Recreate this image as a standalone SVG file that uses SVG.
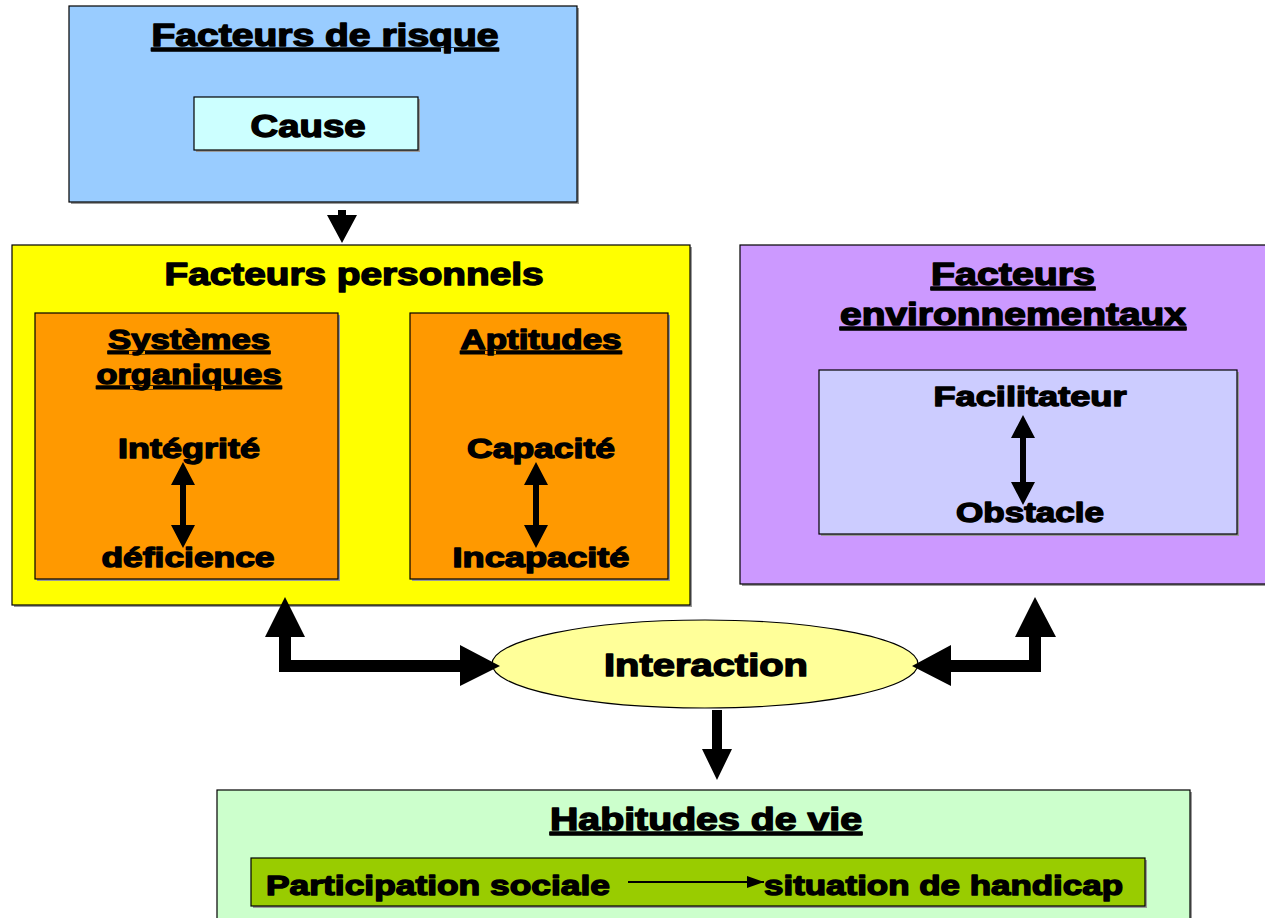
<svg xmlns="http://www.w3.org/2000/svg" width="1265" height="918" viewBox="0 0 1265 918">
<style>
.box{stroke:#000;stroke-width:1.2}
.sh{fill:#9a9a9a}
.t{font-family:"Liberation Sans",Arial,sans-serif;font-weight:bold;fill:#000;stroke:#000;stroke-width:1.4;stroke-linejoin:round;text-anchor:middle}
.u{text-decoration:underline}
.big{font-size:31px}
.mid{font-size:28px}
.arr{fill:#000}
</style>
<defs>
<marker id="ah" viewBox="0 0 17 12" refX="17" refY="6" markerWidth="17" markerHeight="12" orient="auto" markerUnits="userSpaceOnUse">
<path d="M0,0 L17,6 L0,12 z" fill="#000"/>
</marker>
</defs>
<rect width="1265" height="918" fill="#fff"/>

<g id="facteurs-risque">
<rect class="sh" x="71" y="8" width="508" height="196"/>
<rect class="box" x="69" y="6" width="508" height="196" fill="#99CCFF"/>
<text class="t big u" x="325" y="46" textLength="347" lengthAdjust="spacingAndGlyphs">Facteurs de risque</text>
<g id="cause">
<rect class="sh" x="196" y="99" width="224" height="53"/>
<rect class="box" x="194" y="97" width="224" height="53" fill="#CCFFFF"/>
<text class="t big" x="308" y="137" textLength="115" lengthAdjust="spacingAndGlyphs">Cause</text>
</g>
</g>

<g id="facteurs-personnels">
<rect class="sh" x="14" y="247" width="678" height="360"/>
<rect class="box" x="12" y="245" width="678" height="360" fill="#FFFF00"/>
<text class="t big" x="354" y="285" textLength="379" lengthAdjust="spacingAndGlyphs">Facteurs personnels</text>
<g id="systemes-organiques">
<rect class="sh" x="37" y="315" width="303" height="266"/>
<rect class="box" x="35" y="313" width="303" height="266" fill="#FF9900"/>
<text class="t mid u" x="189" y="349" textLength="162" lengthAdjust="spacingAndGlyphs">Systèmes</text>
<text class="t mid u" x="189" y="384" textLength="185" lengthAdjust="spacingAndGlyphs">organiques</text>
<text class="t mid" x="189" y="458" textLength="142" lengthAdjust="spacingAndGlyphs">Intégrité</text>
<text class="t mid" x="188" y="567" textLength="173" lengthAdjust="spacingAndGlyphs">déficience</text>
<path class="arr" d="M183,462 L195,485 L186,485 L186,525 L195,525 L183,548 L171,525 L180,525 L180,485 L171,485 z"/>
</g>
<g id="aptitudes">
<rect class="sh" x="412" y="315" width="258" height="266"/>
<rect class="box" x="410" y="313" width="258" height="266" fill="#FF9900"/>
<text class="t mid u" x="541" y="349" textLength="161" lengthAdjust="spacingAndGlyphs">Aptitudes</text>
<text class="t mid" x="541" y="458" textLength="148" lengthAdjust="spacingAndGlyphs">Capacité</text>
<text class="t mid" x="541" y="567" textLength="177" lengthAdjust="spacingAndGlyphs">Incapacité</text>
<path class="arr" d="M536,462 L548,485 L539,485 L539,525 L548,525 L536,548 L524,525 L533,525 L533,485 L524,485 z"/>
</g>
</g>

<g id="facteurs-environnementaux">
<rect class="sh" x="742" y="247" width="530" height="339"/>
<rect class="box" x="740" y="245" width="530" height="339" fill="#CC99FF"/>
<text class="t big u" x="1013" y="285" textLength="164" lengthAdjust="spacingAndGlyphs">Facteurs</text>
<text class="t big u" x="1013" y="325" textLength="346" lengthAdjust="spacingAndGlyphs">environnementaux</text>
<g id="facilitateur-obstacle">
<rect class="sh" x="821" y="372" width="418" height="164"/>
<rect class="box" x="819" y="370" width="418" height="164" fill="#CCCCFF"/>
<text class="t mid" x="1030" y="406" textLength="193" lengthAdjust="spacingAndGlyphs">Facilitateur</text>
<text class="t mid" x="1030" y="522" textLength="148" lengthAdjust="spacingAndGlyphs">Obstacle</text>
<path class="arr" d="M1023,415 L1035,438 L1026,438 L1026,482 L1035,482 L1023,505 L1011,482 L1020,482 L1020,438 L1011,438 z"/>
</g>
</g>

<g id="interaction">
<ellipse cx="705" cy="664" rx="213" ry="44" fill="#FFFF99" stroke="#000" stroke-width="1.2"/>
<text class="t big" x="706" y="676" textLength="204" lengthAdjust="spacingAndGlyphs">Interaction</text>
</g>

<g id="habitudes-de-vie">
<rect class="sh" x="219" y="792" width="973" height="140"/>
<rect class="box" x="217" y="790" width="973" height="140" fill="#CCFFCC"/>
<text class="t big u" x="706" y="830" textLength="312" lengthAdjust="spacingAndGlyphs">Habitudes de vie</text>
<g id="participation">
<rect class="sh" x="253" y="860" width="894" height="48"/>
<rect class="box" x="251" y="858" width="894" height="48" fill="#99CC00"/>
<text class="t mid" x="438" y="895" textLength="344" lengthAdjust="spacingAndGlyphs">Participation sociale</text>
<text class="t mid" x="943.5" y="895" textLength="359" lengthAdjust="spacingAndGlyphs">situation de handicap</text>
<line x1="628" y1="882" x2="764" y2="882" stroke="#000" stroke-width="2.2" marker-end="url(#ah)"/>
</g>
</g>

<g id="connectors">
<path class="arr" d="M338,210 L346,210 L346,215 L357,215 L342,243 L327,215 L338,215 z"/>
<path class="arr" d="M285,597 L305,637 L291,637 L291,660 L460,660 L460,645 L500,666 L460,686 L460,672 L279,672 L279,637 L265,637 z"/>
<path class="arr" d="M1035,597 L1056,637 L1041,637 L1041,672 L951,672 L951,686 L912,666 L951,645 L951,660 L1029,660 L1029,637 L1015,637 z"/>
<path class="arr" d="M712,710 L722,710 L722,749 L732,749 L717,780 L702,749 L712,749 z"/>
</g>
</svg>
